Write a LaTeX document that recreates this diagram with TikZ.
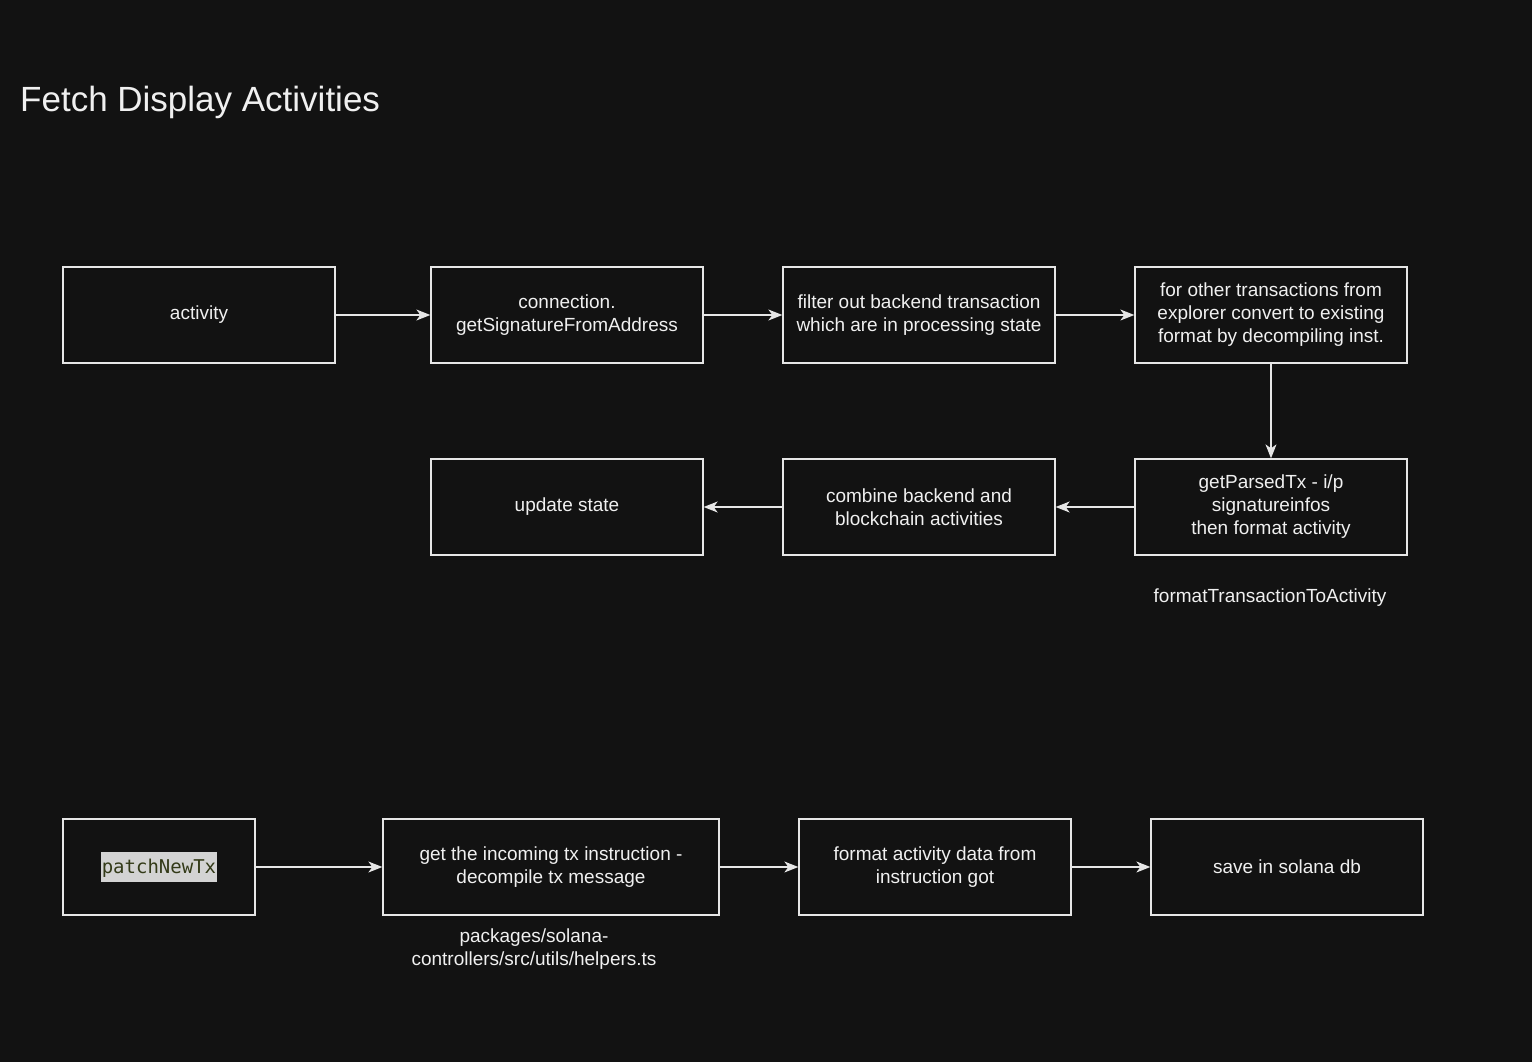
\documentclass[tikz,border=0pt]{standalone}
\usepackage{fontspec}
\setmainfont{Liberation Sans}
\setmonofont{DejaVu Sans Mono}
\usepackage{tikz}
\usetikzlibrary{arrows.meta,positioning}
\definecolor{canvas}{HTML}{121212}
\definecolor{ink}{HTML}{F0F0F0}
\definecolor{edge}{HTML}{E6E6E6}
\definecolor{hlgray}{HTML}{D3D3D3}
\definecolor{hlolive}{HTML}{333A18}
\tikzset{
  stepbox/.style={rectangle, draw=edge, line width=1.3pt, text=ink, align=center,
                  font=\fontsize{19}{23}\selectfont, minimum width=272pt, minimum height=96pt, inner sep=0pt},
  flow/.style={-{Stealth[length=14pt,width=11pt,inset=4pt]}, line width=1.3pt, edge},
}
\begin{document}
\begin{tikzpicture}[
    x=1pt, y=-1pt,
    note/.style={text=ink, align=center, font=\fontsize{19}{23}\selectfont},
    heading/.style={text=ink, font=\fontsize{35}{42}\selectfont, anchor=base west, inner sep=0pt}
]
% Canvas
\fill[canvas] (0,0) rectangle (1532,1062);
\useasboundingbox (0,0) rectangle (1532,1062);

% Title
\node[heading] (title) at (20,112) {Fetch Display Activities};

% Fetch flow
\node[stepbox] (activity) at (199,315) {activity};
\node[stepbox] (getsig) at (567,315) {connection.\\getSignatureFromAddress};
\node[stepbox] (filter) at (919,315) {filter out backend transaction\\which are in processing state};
\node[stepbox] (explorer) at (1271,315) {for other transactions from\\explorer convert to existing\\format by decompiling inst.};
\node[stepbox] (parsed) at (1271,507) {getParsedTx - i/p\\signatureinfos\\then format activity};
\node[stepbox] (combine) at (919,507) {combine backend and\\blockchain activities};
\node[stepbox] (update) at (567,507) {update state};
\node[note] (fmtfn) at (1270,598) {formatTransactionToActivity};

% Patch flow
\node[stepbox, minimum width=192pt] (patch) at (159,867)
  {\setlength{\fboxsep}{0.5pt}\colorbox{hlgray}{\rule[-8pt]{0pt}{29pt}\textcolor{hlolive}{\texttt{patchNewTx}}}};
\node[stepbox, minimum width=336pt] (incoming) at (551,867) {get the incoming tx instruction -\\decompile tx message};
\node[stepbox] (fmtdata) at (935,867) {format activity data from\\instruction got};
\node[stepbox] (save) at (1287,867) {save in solana db};
\node[note] (helpers) at (534,949) {packages/solana-\\controllers/src/utils/helpers.ts};

% Connectors
\draw[flow] (activity) -- (getsig);
\draw[flow] (getsig) -- (filter);
\draw[flow] (filter) -- (explorer);
\draw[flow] (explorer) -- (parsed);
\draw[flow] (parsed) -- (combine);
\draw[flow] (combine) -- (update);
\draw[flow] (patch) -- (incoming);
\draw[flow] (incoming) -- (fmtdata);
\draw[flow] (fmtdata) -- (save);
\end{tikzpicture}
\end{document}
